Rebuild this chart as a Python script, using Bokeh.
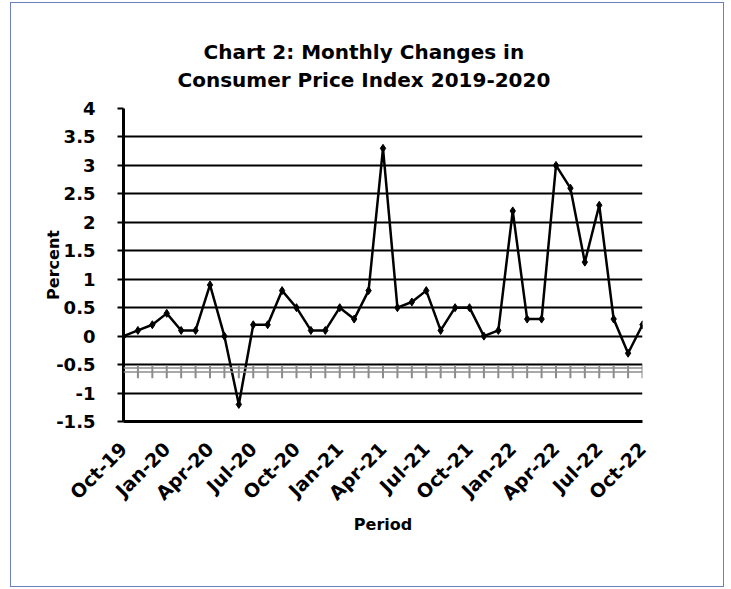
from bokeh.plotting import figure
from bokeh.models import FixedTicker, Span, Range1d, Title
from bokeh.embed import file_html
from bokeh.resources import INLINE

# ---- data ----
months = ["Oct-19", "Nov-19", "Dec-19", "Jan-20", "Feb-20", "Mar-20", "Apr-20",
          "May-20", "Jun-20", "Jul-20", "Aug-20", "Sep-20", "Oct-20", "Nov-20",
          "Dec-20", "Jan-21", "Feb-21", "Mar-21", "Apr-21", "May-21", "Jun-21",
          "Jul-21", "Aug-21", "Sep-21", "Oct-21", "Nov-21", "Dec-21", "Jan-22",
          "Feb-22", "Mar-22", "Apr-22", "May-22", "Jun-22", "Jul-22", "Aug-22",
          "Sep-22", "Oct-22"]
cpi_change = [0.0, 0.1, 0.2, 0.4, 0.1, 0.1, 0.9,
              0.0, -1.2, 0.2, 0.2, 0.8, 0.5, 0.1,
              0.1, 0.5, 0.3, 0.8, 3.3, 0.5, 0.6,
              0.8, 0.1, 0.5, 0.5, 0.0, 0.1, 2.2,
              0.3, 0.3, 3.0, 2.6, 1.3, 2.3, 0.3,
              -0.3, 0.2]
tick_labels = ["Oct-19", "Jan-20", "Apr-20", "Jul-20", "Oct-20", "Jan-21", "Apr-21",
               "Jul-21", "Oct-21", "Jan-22", "Apr-22", "Jul-22", "Oct-22"]
y_ticks = [-1.5, -1, -0.5, 0, 0.5, 1, 1.5, 2, 2.5, 3, 3.5, 4]
title_lines = ["Chart 2: Monthly Changes in", "Consumer Price Index 2019-2020"]

FONT = "DejaVu Sans"

x = list(range(len(months)))
tick_pos = [months.index(t) for t in tick_labels]

p = figure(width=714, height=585, output_backend="svg", toolbar_location=None,
           x_range=Range1d(0, len(months) - 1), y_range=Range1d(y_ticks[0], y_ticks[-1]),
           min_border_left=112, min_border_top=105, min_border_right=83,
           min_border_bottom=167)
p.styles = {"border": "1px solid #6a7fc0", "margin-left": "10px", "margin-top": "2px"}
p.outline_line_color = None
p.background_fill_color = "white"

# grid
p.xgrid.visible = False
p.ygrid.grid_line_color = "black"
p.ygrid.grid_line_width = 2
p.ygrid.ticker = FixedTicker(ticks=y_ticks)

# y axis
p.yaxis.ticker = FixedTicker(ticks=y_ticks)
p.yaxis.major_label_overrides = {t: ("%g" % t) for t in y_ticks}
p.yaxis.axis_line_color = "black"
p.yaxis.axis_line_width = 3
p.yaxis.major_tick_line_color = "black"
p.yaxis.major_tick_line_width = 2
p.yaxis.major_tick_out = 6
p.yaxis.major_tick_in = 0
p.yaxis.minor_tick_line_color = None
p.yaxis.major_label_text_font = FONT
p.yaxis.major_label_text_font_style = "bold"
p.yaxis.major_label_text_font_size = "18px"
p.yaxis.major_label_text_color = "black"
p.yaxis.major_label_standoff = 22
p.yaxis.axis_label = "Percent"
p.yaxis.axis_label_text_font = FONT
p.yaxis.axis_label_text_font_style = "bold"
p.yaxis.axis_label_text_font_size = "16px"
p.yaxis.axis_label_text_color = "black"
p.yaxis.axis_label_standoff = -10

# x axis
p.xaxis.ticker = FixedTicker(ticks=tick_pos)
p.xaxis.major_label_overrides = {pos: lab for pos, lab in zip(tick_pos, tick_labels)}
p.xaxis.major_label_orientation = 0.785398
p.xaxis.axis_line_color = "black"
p.xaxis.axis_line_width = 3
p.xaxis.major_tick_line_color = None
p.xaxis.minor_tick_line_color = None
p.xaxis.major_label_text_font = FONT
p.xaxis.major_label_text_font_style = "bold"
p.xaxis.major_label_text_font_size = "19px"
p.xaxis.major_label_text_color = "black"
p.xaxis.major_label_standoff = 18
p.xaxis.axis_label = "Period"
p.xaxis.axis_label_text_font = FONT
p.xaxis.axis_label_text_font_style = "bold"
p.xaxis.axis_label_text_font_size = "16px"
p.xaxis.axis_label_text_color = "black"
p.xaxis.axis_label_standoff = 0

# gray horizontal axis crossing with monthly tick marks
AXIS_Y = -0.6
p.add_layout(Span(location=AXIS_Y + 0.04, dimension="width", line_color="#8c8c8c", line_width=1.6))
p.add_layout(Span(location=AXIS_Y - 0.03, dimension="width", line_color="#8c8c8c", line_width=1.6))
p.segment(x0=x, x1=x, y0=[AXIS_Y + 0.09] * len(x), y1=[AXIS_Y - 0.14] * len(x),
          line_color="#8c8c8c", line_width=2)

# series
p.line(x, cpi_change, line_color="black", line_width=2.5)
p.scatter(x, cpi_change, marker="diamond", size=8, fill_color="black", line_color="black")

# title (two lines): first added sits closest to the plot
title_offsets = [54, 80]
title_standoffs = [34, -30]
for i, t in enumerate(reversed(title_lines)):
    p.add_layout(Title(text=t, align="left", offset=title_offsets[i], text_font=FONT,
                       text_font_style="bold", text_font_size="20px", text_color="black",
                       standoff=title_standoffs[i]), "above")

open("out.html", "w").write(file_html(p, INLINE))
